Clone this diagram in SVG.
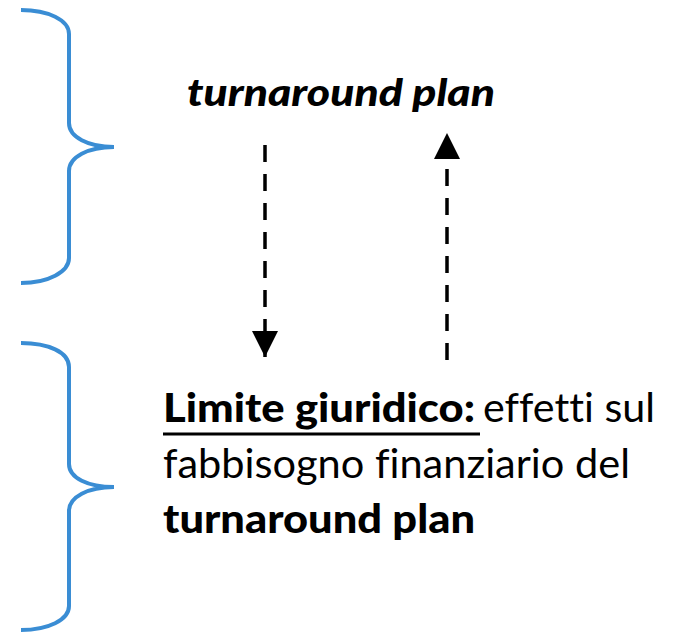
<svg xmlns="http://www.w3.org/2000/svg" width="693" height="632" viewBox="0 0 693 632">
  <style>
    .brace { fill: none; stroke: #3A8DD4; stroke-width: 4; stroke-linecap: butt; }
    .flow { fill: none; stroke: #000; stroke-width: 3.5; stroke-dasharray: 17 12; }
    .txt { font-family: Lato, "Liberation Sans", sans-serif; font-size: 40px; fill: #000; font-variant-ligatures: none; }
    .b { font-weight: 900; }
    .bi { font-weight: 900; font-style: italic; font-size: 38px; }
  </style>
  <defs>
    <marker id="head" viewBox="0 0 10 10" refX="10" refY="5" markerWidth="26" markerHeight="26" markerUnits="userSpaceOnUse" orient="auto">
      <path d="M0,0 L10,5 L0,10 Z" fill="#000"/>
    </marker>
  </defs>

  <!-- upper brace -->
  <g id="brace-top">
    <path class="brace" d="M21,10 C48,10 69,20 69,34 L69,123 C69,137 88,147 114,147 C88,147 69,157 69,171 L69,258 C69,272 48,283 21,283"/>
  </g>

  <!-- lower brace -->
  <g id="brace-bottom">
    <path class="brace" d="M21,343 C48,343 69,352 69,367 L69,464 C69,478 88,487 114,487 C88,487 69,497 69,511 L69,606 C69,620 48,630 21,630"/>
  </g>

  <!-- top label -->
  <g id="plan">
    <text class="txt bi" x="187" y="106" textLength="308" lengthAdjust="spacingAndGlyphs">turnaround plan</text>
  </g>

  <!-- bottom label -->
  <g id="limite">
    <text class="txt" y="422">
      <tspan class="b" x="163" textLength="312" lengthAdjust="spacingAndGlyphs">Limite giuridico:</tspan>
      <tspan x="483" textLength="172" lengthAdjust="spacingAndGlyphs">effetti sul</tspan>
    </text>
    <line x1="163" y1="434" x2="480" y2="434" stroke="#000" stroke-width="3"/>
    <text class="txt" x="163" y="478" textLength="467" lengthAdjust="spacingAndGlyphs">fabbisogno finanziario del</text>
    <text class="txt b" x="163" y="533" textLength="312" lengthAdjust="spacingAndGlyphs">turnaround plan</text>
  </g>

  <!-- connectors -->
  <g id="connectors">
    <line class="flow" x1="265" y1="145" x2="265" y2="357" marker-end="url(#head)"/>
    <line class="flow" x1="447" y1="360" x2="447" y2="133" marker-end="url(#head)"/>
  </g>
</svg>
